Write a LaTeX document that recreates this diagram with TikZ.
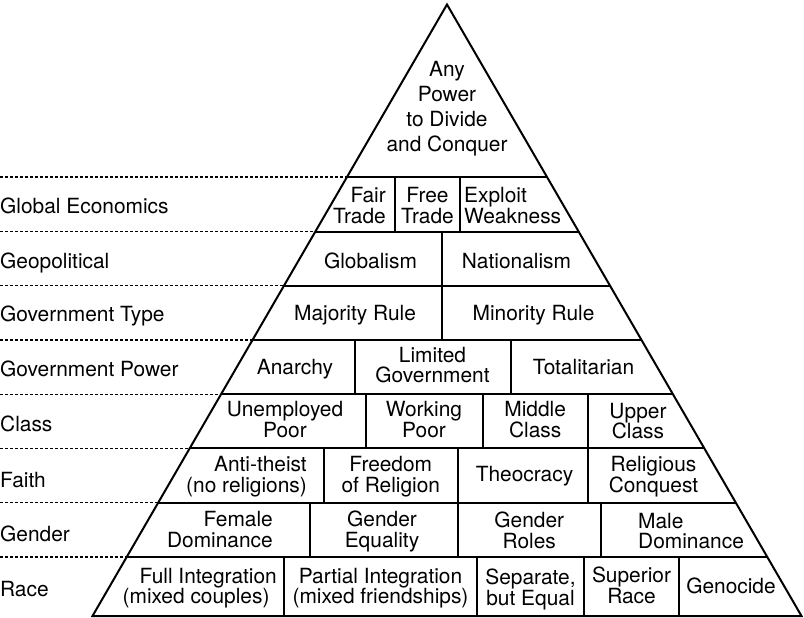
\documentclass[tikz,border=0pt]{standalone}
\usepackage{fontspec}
\setmainfont{TeX Gyre Heros}
\newcommand\cellfont{\fontsize{20.9pt}{20.6pt}\selectfont}
\newcommand\topfont{\fontsize{20.9pt}{25pt}\selectfont}
\newcommand\lx[1]{447-0.579722*(#1-4.5)}
\newcommand\rx[1]{447+0.579722*(#1-4.5)}
\begin{document}
\begin{tikzpicture}[x=1pt,y=-1pt,
  frame/.style={line width=2pt},
  guide/.style={line width=1.2pt, dash pattern=on 3pt off 2pt},
  cell/.style={inner sep=0pt, align=center, font=\cellfont},
  lbl/.style={inner sep=0pt, anchor=base west, font=\cellfont}]
\useasboundingbox[fill=white] (0,0) rectangle (804,618);
\coordinate (apex) at (447,4.5);
\coordinate (bl) at (92.5,616);
\coordinate (br) at (801.5,616);
% guide lines and row separators
\foreach \y in {177,231.5,285.7,340,394.2,448.4,502.7,557} {
  \draw[guide] (0,\y) -- ({\lx{\y}},\y);
  \draw[frame] ({\lx{\y}},\y) -- ({\rx{\y}},\y);
}
% cell dividers
\foreach \x/\a/\b in {395/177/231.5, 460/177/231.5, 442/231.5/340,
  354.5/340/394.2, 511/340/394.2,
  365.7/394.2/448.4, 482.7/394.2/448.4, 587.7/394.2/448.4,
  324/448.4/502.7, 457.8/448.4/502.7, 587.7/448.4/502.7,
  310/502.7/557, 457.8/502.7/557, 601/502.7/557,
  284/557/616, 477.3/557/616, 583.7/557/616, 679/557/616}
  \draw[frame] (\x,\a) -- (\x,\b);
% outline
\draw[frame, line join=miter] (apex) -- (bl) -- (br) -- cycle;
% top
\node[cell, font=\topfont] (top) at (447,108.2) {Any\\Power\\to Divide\\and Conquer};
% row 1
\node[cell, align=right, anchor=east] (fair) at (386,205.5) {Fair\\Trade};
\node[cell] (free) at (427.5,205.5) {Free\\Trade};
\node[cell, align=left, anchor=west] (exploit) at (464,205.5) {Exploit\\Weakness};
% row 2
\node[cell] (globalism) at (370.5,261) {Globalism};
\node[cell] (nationalism) at (516.5,261) {Nationalism};
% row 3
\node[cell] (majority) at (355,315.3) {Majority Rule};
\node[cell] (minority) at (533.5,315.3) {Minority Rule};
% row 4
\node[cell] (anarchy) at (295,369.6) {Anarchy};
\node[cell] (limited) at (432.5,365) {Limited\\Government};
\node[cell] (totalitarian) at (583.5,367.5) {Totalitarian};
% row 5
\node[cell] (unemployed) at (285,419.5) {Unemployed\\Poor};
\node[cell] (working) at (424,419.5) {Working\\Poor};
\node[cell] (middle) at (535.2,419.5) {Middle\\Class};
\node[cell] (upper) at (638,421) {Upper\\Class};
% row 6
\node[cell, align=right, anchor=east] (antitheist) at (307,476.6) {Anti-theist\\(no religions)};
\node[cell] (freedom) at (390.8,476.6) {Freedom\\of Religion};
\node[cell] (theocracy) at (524.5,476.4) {Theocracy};
\node[cell] (religious) at (653.5,476.6) {Religious\\Conquest};
% row 7
\node[cell, align=right, anchor=east] (female) at (273,529.5) {Female\\Dominance};
\node[cell] (equality) at (382,531.6) {Gender\\Equality};
\node[cell] (roles) at (529.3,530.5) {Gender\\Roles};
\node[cell, align=left, anchor=west] (male) at (638,531) {Male\\Dominance};
% row 8
\node[cell, align=right, anchor=east] (full) at (277,588.2) {Full Integration\\(mixed couples)\rule{7.3pt}{0pt}};
\node[cell] (partial) at (380.5,588.2) {Partial Integration\\(mixed friendships)};
\node[cell] (separate) at (530.5,589.2) {Separate,\\but Equal};
\node[cell] (superior) at (631.5,585.5) {Superior\\Race};
\node[cell] (genocide) at (731,585.8) {Genocide};
% left labels
\node[lbl] (l1) at (0,213.3) {Global Economics};
\node[lbl] (l2) at (0,268.3) {Geopolitical};
\node[lbl] (l3) at (0,321.7) {Government Type};
\node[lbl] (l4) at (0,376.7) {Government Power};
\node[lbl] (l5) at (0,431.7) {Class};
\node[lbl] (l6) at (0,487.3) {Faith};
\node[lbl] (l7) at (0,541.7) {Gender};
\node[lbl] (l8) at (0,596.7) {Race};
\end{tikzpicture}
\end{document}
